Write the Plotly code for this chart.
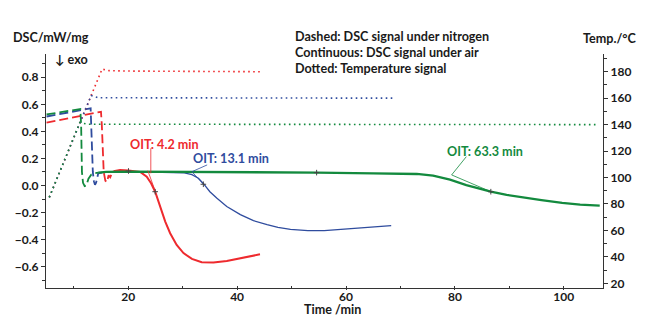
import plotly.graph_objects as go

# ---------------- data ----------------
# DSC under nitrogen (dashed), time [min], DSC [mW/mg]
red_n2_t = [5.0, 15.0, 15.15, 15.5, 15.8, 16.1, 16.4, 16.7, 17.0, 17.3]
red_n2_v = [0.465, 0.545, 0.45, 0.10, 0.035, 0.025, 0.075, 0.06, 0.09, 0.105]
blue_n2_t = [5.0, 13.1, 13.2, 13.5, 13.7, 13.9, 14.1, 14.5, 15.2]
blue_n2_v = [0.51, 0.57, 0.45, 0.10, 0.03, 0.005, 0.02, 0.09, 0.095]
green_n2_t = [5.0, 11.2, 11.35, 11.5, 11.7, 12.0, 12.3, 12.7, 13.2, 13.7, 14.5]
green_n2_v = [0.525, 0.565, 0.45, 0.10, 0.02, -0.005, 0.0, 0.05, 0.08, 0.09, 0.095]

# DSC under air (continuous)
red_air_t = [17.3, 18.5, 20.0, 21.5, 22.2, 23.4, 24.2, 24.95, 25.9, 26.8, 27.7, 28.9,
             30.15, 31.7, 33.5, 35.65, 38.1, 41.2, 44.2]
red_air_v = [0.105, 0.115, 0.11, 0.105, 0.10, 0.065, 0.016, -0.046, -0.168, -0.267, -0.353, -0.44,
             -0.50, -0.543, -0.567, -0.570, -0.558, -0.533, -0.509]
blue_air_t = [15.2, 16.0, 20.0, 25.0, 28.0, 30.3, 31.7, 32.9, 33.9, 35.0, 36.3, 38.1, 40.6,
              43.0, 45.5, 47.5, 49.8, 53.0, 56.0, 59.0, 62.2, 65.1, 68.3]
blue_air_v = [0.095, 0.10, 0.102, 0.10, 0.097, 0.093, 0.08, 0.053, 0.01, -0.046, -0.095, -0.155, -0.215,
              -0.26, -0.29, -0.31, -0.324, -0.334, -0.334, -0.326, -0.316, -0.306, -0.297]
green_air_t = [14.5, 16.0, 20.0, 30.0, 40.0, 50.0, 54.6, 65.0, 73.0, 76.0, 79.1, 82.1, 84.5,
               86.6, 89.5, 92.1, 95.9, 99.7, 103.0, 106.6]
green_air_v = [0.095, 0.10, 0.103, 0.102, 0.10, 0.098, 0.095, 0.09, 0.085, 0.072, 0.043, 0.003, -0.025,
               -0.046, -0.07, -0.087, -0.109, -0.129, -0.142, -0.149]

# Temperature signals (dotted), [°C]
red_temp_t = [5.5, 15.2, 16.5, 20.0, 44.3]
red_temp_v = [85, 182, 180.8, 180.5, 180.0]
blue_temp_t = [5.5, 13.2, 14.5, 68.8]
blue_temp_v = [85, 162, 160.3, 160.0]
green_temp_t = [5.5, 11.1, 12.5, 106.4]
green_temp_v = [85, 141.5, 140.3, 140.0]

# evaluation marks "+"
mark_t = [20.05, 24.95, 33.8, 54.6, 86.6]
mark_v = [0.107, -0.046, 0.009, 0.095, -0.046]

oit_labels = ["OIT: 4.2 min", "OIT: 13.1 min", "OIT: 63.3 min"]
oit_label_t = [26.6, 38.9, 85.6]
oit_label_v = [0.305, 0.201, 0.248]
# leader lines (start/end in data coords)
red_lead_t = [24.15, 24.15]
red_lead_v = [0.275, 0.09]
red_tan_t = [23.6, 25.0]
red_tan_v = [0.11, -0.046]
blue_lead_t = [34.5, 31.7]
blue_lead_v = [0.152, 0.102]
blue_tan_t = [31.7, 33.9]
blue_tan_v = [0.102, 0.005]
green_lead_t = [82.1, 79.4]
green_lead_v = [0.213, 0.078]
green_tan_t = [79.4, 86.6]
green_tan_v = [0.078, -0.046]

RED = "#EE2A2E"
BLUE = "#2F4C9E"
GREEN = "#138A3E"
FONT = "Lato"

fig = go.Figure()

def line(t, v, color, width, dash="solid", y2=False):
    fig.add_trace(go.Scatter(x=t, y=v, mode="lines", yaxis="y2" if y2 else "y",
                             line=dict(color=color, width=width, dash=dash),
                             hoverinfo="skip", showlegend=False))

DOT = "1.6px,3.4px"
DASH = "9px,4px"
# temperature (dotted)
line(red_temp_t, red_temp_v, RED, 1.6, DOT, True)
line(blue_temp_t, blue_temp_v, BLUE, 1.6, DOT, True)
line(green_temp_t, green_temp_v, GREEN, 1.6, DOT, True)
# nitrogen (dashed)
line(red_n2_t, red_n2_v, RED, 1.8, DASH)
line(blue_n2_t, blue_n2_v, BLUE, 1.8, DASH)
line(green_n2_t, green_n2_v, GREEN, 1.8, DASH)
# air (continuous)
line(red_air_t, red_air_v, RED, 2.0)
line(blue_air_t, blue_air_v, BLUE, 1.3)
line(green_air_t, green_air_v, GREEN, 2.3)
# leaders / tangents
line(red_lead_t, red_lead_v, RED, 0.8)
line(red_tan_t, red_tan_v, RED, 0.8)
line(blue_lead_t, blue_lead_v, BLUE, 0.8)
line(blue_tan_t, blue_tan_v, BLUE, 0.8)
line(green_lead_t, green_lead_v, GREEN, 0.8)
line(green_tan_t, green_tan_v, GREEN, 0.8)

fig.add_trace(go.Scatter(x=mark_t, y=mark_v, mode="markers",
                         marker=dict(symbol="cross-thin", size=4, line=dict(color="#444444", width=1)),
                         hoverinfo="skip", showlegend=False))

tickfont = dict(family=FONT, size=12, color="#1a1a1a", weight="bold")
fig.update_layout(
    width=650, height=332,
    margin=dict(l=46, r=47, t=54, b=44),
    paper_bgcolor="white", plot_bgcolor="white",
    xaxis=dict(range=[4.9, 107.2], tick0=0, dtick=20, showgrid=False, zeroline=False,
               showline=True, linecolor="#333333", linewidth=1.2,
               ticks="outside", ticklen=1, tickcolor="#333333", tickfont=tickfont,
               ticklabelstandoff=-4,
               minor=dict(tick0=0, dtick=10, ticks="inside", ticklen=2, tickcolor="#333333")),
    yaxis=dict(range=[-0.758, 0.972], tick0=0, dtick=0.2, tickformat=".1f", showgrid=False,
               zeroline=False, showline=True, linecolor="#333333", linewidth=1.2,
               ticks="outside", ticklen=4, tickcolor="#333333", tickfont=tickfont,
               minor=dict(tick0=0, dtick=0.1, ticks="outside", ticklen=3, tickcolor="#333333")),
    yaxis2=dict(range=[16.45, 193.4], tick0=0, dtick=20, overlaying="y", side="right",
                showgrid=False, zeroline=False, showline=True, linecolor="#333333", linewidth=1.2,
                ticks="outside", ticklen=4, tickcolor="#333333", tickfont=tickfont,
                minor=dict(tick0=0, dtick=10, ticks="outside", ticklen=3, tickcolor="#333333")),
)

txt = dict(family=FONT, size=12.6, color="#1a1a1a", weight="bold")
ann = [
    dict(text="DSC/mW/mg", x=0.0088, y=1.069, xanchor="center"),
    dict(text="\u2193 exo", x=0.0126, y=0.977, xanchor="left"),
    dict(text="Temp./\u00b0C", x=1.0133, y=1.068, xanchor="center"),
    dict(text="Dashed: DSC signal under nitrogen", x=0.4427, y=1.0766, xanchor="left"),
    dict(text="Continuous: DSC signal under air", x=0.4427, y=1.0055, xanchor="left"),
    dict(text="Dotted: Temperature signal", x=0.4427, y=0.9374, xanchor="left"),
    dict(text="Time /min", x=0.515, y=-0.092, xanchor="center"),
]
for a in ann:
    fig.add_annotation(xref="paper", yref="paper", yanchor="middle", showarrow=False,
                       font=txt, **a)

for lab, t, v, c in zip(oit_labels, oit_label_t, oit_label_v, [RED, BLUE, GREEN]):
    fig.add_annotation(text=lab, x=t, y=v, xref="x", yref="y", showarrow=False,
                       xanchor="center", yanchor="middle",
                       font=dict(family=FONT, size=12.6, color=c, weight="bold"))

fig.write_html("out.html")
